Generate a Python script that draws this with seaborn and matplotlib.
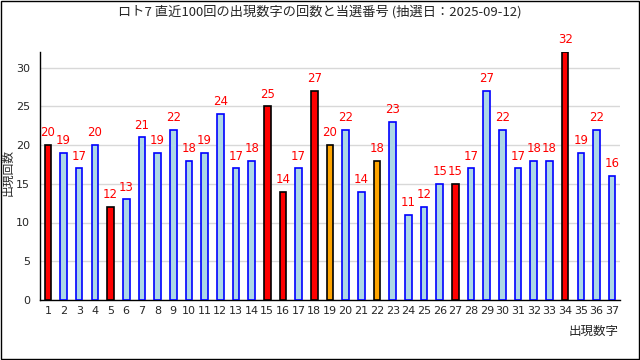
import matplotlib
matplotlib.use("Agg")
import matplotlib.pyplot as plt
import seaborn as sns
import pandas as pd
from matplotlib.patches import Rectangle

numbers = list(range(1, 38))
counts = [20, 19, 17, 20, 12, 13, 21, 19, 22, 18, 19, 24, 17, 18, 25, 14, 17, 27,
          20, 22, 14, 18, 23, 11, 12, 15, 15, 17, 27, 22, 17, 18, 18, 32, 19, 22, 16]
main_nums = [1, 5, 15, 16, 18, 27, 34]
bonus_nums = [19, 22]

title = "ロト7 直近100回の出現数字の回数と当選番号 (抽選日：2025-09-12)"

sns.set_style("white")
plt.rcParams['font.family'] = ['DejaVu Sans', 'Noto Sans CJK JP']

df = pd.DataFrame({"num": [str(n) for n in numbers], "count": counts})


def face(n):
    if n in main_nums:
        return "#ff0000"
    if n in bonus_nums:
        return "#ffa500"
    return "#add8e6"


def edge(n):
    if n in main_nums or n in bonus_nums:
        return "black"
    return "blue"


fig = plt.figure(figsize=(6.4, 3.6), dpi=100)
ax = fig.add_axes([40 / 640, 1 - 300 / 360, 580 / 640, 248 / 360])

sns.barplot(data=df, x="num", y="count", hue="num",
            palette=[face(n) for n in numbers], legend=False, saturation=1,
            width=0.42, ax=ax, zorder=3)

for i, bar in enumerate(ax.patches):
    bar.set_edgecolor(edge(numbers[i]))
    bar.set_linewidth(1.2)

for cont in ax.containers:
    ax.bar_label(cont, color="red", fontsize=8.5, padding=4)

ax.set_xlim(-0.5, 36.5)
ax.set_ylim(0, 32)
ax.set_yticks(range(0, 31, 5))
ax.yaxis.grid(True, color="#d8d8d8", linewidth=1, zorder=0)
ax.set_axisbelow(True)
ax.set_xlabel("")
ax.set_ylabel("")
ax.set_xticks(range(37))
ax.set_xticklabels([str(n) for n in numbers])
ax.set_xticks([i + 0.5 for i in range(-1, 37)], minor=True)
ax.tick_params(axis="x", which="major", length=0, labelsize=8, pad=4)
ax.tick_params(axis="x", which="minor", direction="in", length=4, width=1, color="black")
ax.tick_params(axis="y", length=5, width=1, color="black", labelsize=8, pad=2)
for s in ["top", "right"]:
    ax.spines[s].set_visible(False)
for s in ["left", "bottom"]:
    ax.spines[s].set_color("black")
    ax.spines[s].set_linewidth(1)

fig.text(0.5, 1 - 12 / 360, title, ha="center", va="center", fontsize=9.5,
         family=['Noto Sans CJK JP', 'DejaVu Sans'])
fig.text(8 / 640, 1 - 172 / 360, "出現回数", rotation=90, ha="center", va="center",
         fontsize=8.5, family=['Noto Sans CJK JP', 'DejaVu Sans'])
fig.text(619 / 640, 1 - 331 / 360, "出現数字", ha="right", va="center",
         fontsize=9, family=['Noto Sans CJK JP', 'DejaVu Sans'])

fig.add_artist(Rectangle((0.0008, 0.0014), 0.9984, 0.9972, transform=fig.transFigure,
                         fill=False, edgecolor="black", linewidth=1))

fig.savefig("out.png", dpi=100)
